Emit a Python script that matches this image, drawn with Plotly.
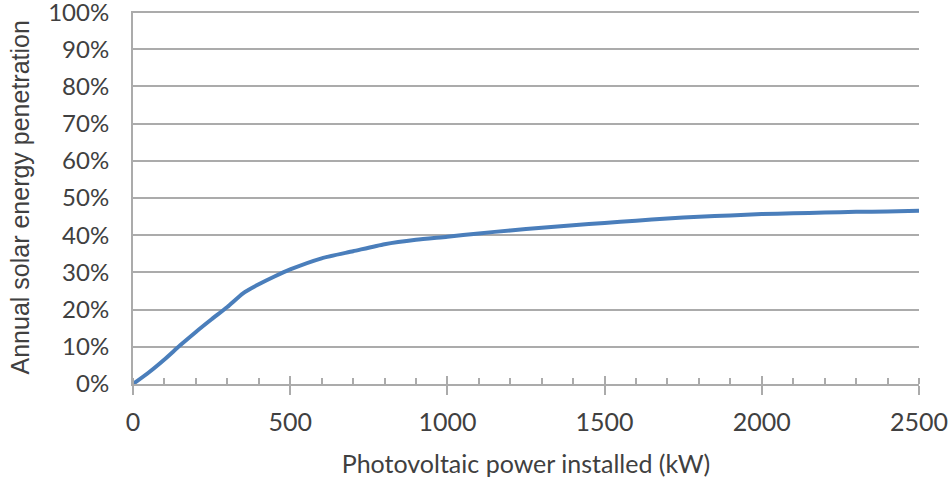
import plotly.graph_objects as go

pv_kw = [0, 50, 100, 150, 200, 250, 300, 350, 400, 450, 500, 600, 700, 800, 900,
         1000, 1100, 1200, 1300, 1400, 1500, 1600, 1700, 1800, 1900, 2000,
         2100, 2200, 2300, 2400, 2500]
penetration = [0.0, 3.1, 6.6, 10.4, 14.0, 17.4, 20.7, 24.4, 26.8, 28.9, 30.8, 33.8,
               35.7, 37.6, 38.8, 39.6, 40.5, 41.3, 42.0, 42.7, 43.3, 43.9, 44.5,
               45.0, 45.3, 45.7, 45.9, 46.1, 46.3, 46.4, 46.6]
penetration = [v / 100 for v in penetration]
x_ticks = [0, 500, 1000, 1500, 2000, 2500]
y_ticks = [i / 10 for i in range(11)]
y_labels = [f"{i * 10}%" for i in range(11)]

grid = "#ababab"
txt = "#404040"
W, H = 948, 481
L, R, T, B = 133, 29, 11, 97

fig = go.Figure()
fig.add_trace(go.Scatter(x=pv_kw, y=penetration, mode="lines",
                         line=dict(color="#4a7ebb", width=4, shape="spline", smoothing=0.6),
                         showlegend=False, hoverinfo="skip"))
fig.add_trace(go.Scatter(x=[0, 2500], y=[0, 0], xaxis="x2", mode="lines",
                         line=dict(width=0), showlegend=False, hoverinfo="skip"))

fig.update_layout(
    width=W, height=H,
    margin=dict(l=L, r=R, t=T, b=B, autoexpand=False),
    paper_bgcolor="white", plot_bgcolor="white",
    xaxis=dict(range=[0, 2500], tickvals=x_ticks, ticks="outside", ticklen=9,
               tickwidth=1.5, tickcolor=grid, showgrid=False, showline=True,
               linecolor=grid, linewidth=2, zeroline=False, automargin=False,
               ticklabeloverflow="allow", ticklabelstandoff=6,
               tickfont=dict(family="Lato", size=25, color=txt),
               minor=dict(dtick=100, tick0=0, ticks="inside", ticklen=6,
                          tickwidth=1.5, tickcolor=grid, showgrid=False),
               title=dict(text="Photovoltaic power installed (kW)", standoff=20,
                          font=dict(family="Lato", size=25, color=txt))),
    xaxis2=dict(range=[0, 2500], overlaying="x", side="bottom", tickvals=x_ticks,
                ticks="inside", ticklen=8, tickwidth=1.5, tickcolor=grid,
                showticklabels=False, showgrid=False, showline=False, zeroline=False,
                automargin=False),
    yaxis=dict(range=[0, 1.003], tickvals=y_ticks, ticktext=y_labels, ticks="",
               showgrid=True, gridcolor=grid, gridwidth=2, showline=True,
               linecolor=grid, linewidth=2, zeroline=False, ticklabelstandoff=17,
               automargin=False, ticklabeloverflow="allow",
               tickfont=dict(family="Lato", size=24, color=txt)),
)

fig.add_annotation(text="Annual solar energy penetration", textangle=-90,
                   xref="paper", yref="paper",
                   x=-(L - 19) / (W - L - R), y=0.5,
                   xanchor="center", yanchor="middle", showarrow=False,
                   font=dict(family="Liberation Sans", size=25, color=txt))

fig.write_html("out.html")
